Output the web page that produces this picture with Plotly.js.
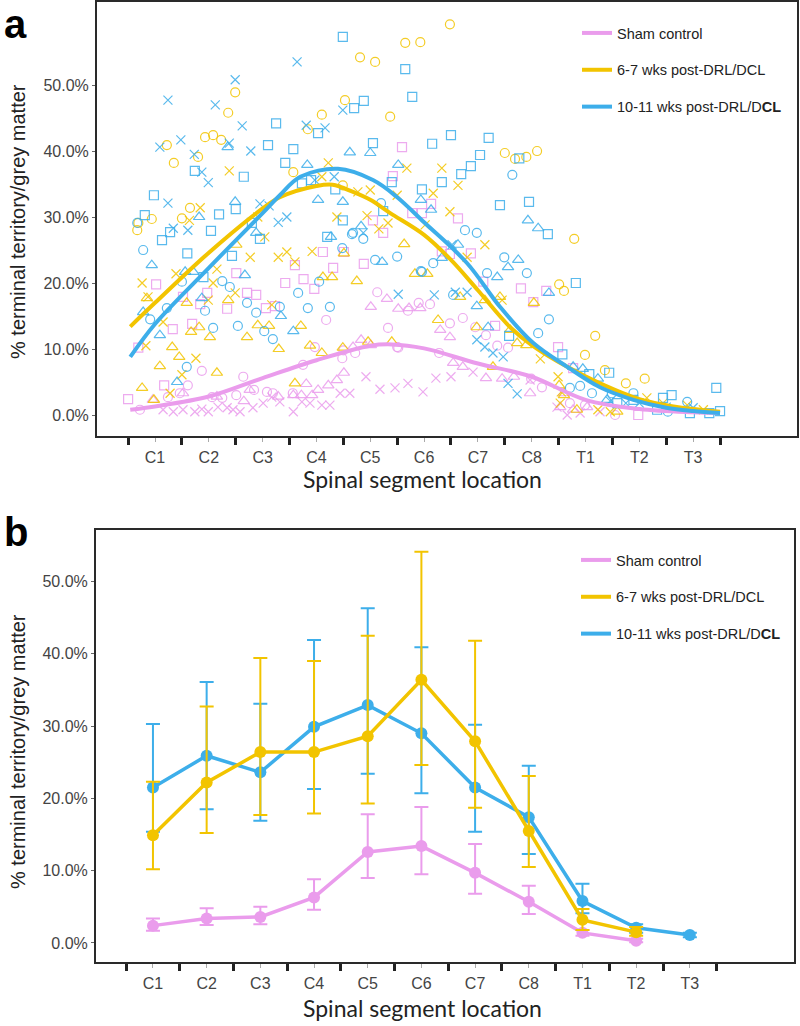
<!DOCTYPE html>
<html>
<head>
<meta charset="utf-8">
<script src="https://cdn.plot.ly/plotly-3.0.1.min.js"></script>
<style>html,body{margin:0;padding:0;background:#fff;}#chart{width:800px;height:1026px;}</style>
</head>
<body>
<div id="chart"></div>
<script>
// ---------- categories ----------
const segments = ['C1','C2','C3','C4','C5','C6','C7','C8','T1','T2','T3'];
const seriesNames = ['Sham control', '6-7 wks post-DRL/DCL', '10-11 wks post-DRL/D<b>CL</b>'];
const colSham = '#EA9CEC', colEarly = '#F2C400', colLate = '#3DAEEA';

// ---------- panel a : individual section values (x = segment position, y = %) ----------
const shamCircX = [0.72,1.24,1.46,1.61,1.87,2.06,2.25,2.51,2.64,2.84,3.08,3.19,3.56,3.75,4.18,4.48,4.72,5.13,5.33,5.5,3.97,4.5,5.52,5.7,5.9,6.11,6.48,6.72,7.15,6.28,6.95,7.36,7.56,8.19,7.99,8.71,8.99,9.55];
const shamCircY = [0.8,2.7,3.3,4.5,6.7,2.7,2.6,3.0,5.8,3.8,3.5,3.3,3.3,7.6,14.4,8.6,9.4,18.6,13.2,10.3,10.3,9.8,10.2,15.8,17.0,16.8,13.9,14.7,12.1,9.4,13.3,10.5,10.2,4.2,5.5,1.8,1.5,0.0];
const shamSqX = [0.5,0.69,1.02,1.17,1.33,1.52,1.69,1.84,1.97,2.34,2.51,2.71,2.88,3.06,3.23,3.42,3.76,3.96,4.12,4.31,4.51,4.88,5.59,5.42,5.78,5.96,6.13,6.63,5.05,5.24,3.6,6.33,6.48,6.87,7.1,7.32,7.8,8.27,8.03,8.49,8.77,9.98];
const shamSqY = [2.4,10.2,19.8,4.5,13.0,17.9,13.8,16.8,18.5,16.1,21.5,18.5,18.2,16.2,16.5,20.0,20.6,19.1,24.7,22.3,24.7,22.9,40.6,36.2,30.6,30.6,32.0,29.8,29.5,27.6,22.7,24.8,24.4,24.5,20.2,13.5,19.2,18.8,17.1,10.3,7.1,0.0];
const shamTriX = [0.96,1.52,2.15,2.65,2.76,3.29,3.57,3.81,4.03,4.22,4.38,4.51,4.68,4.83,5.01,5.01,5.31,5.52,5.72,5.93,6.3,6.48,6.54,6.72,7.15,7.45,7.67,7.97,8.53,8.6,8.77,9.03,3.92,3.72];
const shamTriY = [2.3,3.3,2.8,2.1,3.8,2.8,3.0,4.7,3.8,4.5,5.3,6.4,10.3,11.4,10.6,16.4,17.6,16.1,16.2,16.2,12.9,11.8,7.9,7.3,5.6,5.5,5.8,3.3,1.2,3.3,0.8,1.2,3.0,3.0];
const shamXX = [1.15,1.34,1.52,1.74,1.87,1.99,2.17,2.34,2.45,2.58,2.82,3.01,3.17,3.32,3.57,3.73,3.88,4.1,4.25,4.44,4.62,4.92,5.18,5.46,5.7,5.98,6.22,6.5,6.91,7.97,8.47,8.66,8.9,9.27];
const shamXY = [0.8,0.5,0.8,0.5,0.9,0.5,1.2,1.1,0.8,0.5,1.1,1.8,2.7,2.0,0.5,2.0,1.8,1.5,1.5,3.3,3.3,5.8,3.9,4.1,4.8,3.5,5.6,5.8,6.5,5.3,1.2,0.0,0.3,0.5];

const earlyCircX = [0.67,0.69,0.94,1.22,1.35,1.5,1.65,1.8,1.93,2.08,2.23,2.36,2.49,3.57,3.84,4.1,4.53,4.81,5.09,5.37,4.49,5.65,5.93,6.48,7.5,7.69,7.9,8.1,8.79,8.51,8.6,9.18,8.99,9.36,9.75,10.1];
const earlyCircY = [28.0,29.1,29.7,40.9,38.2,29.8,31.4,39.1,42.1,42.4,41.7,45.8,48.9,36.8,43.3,45.5,47.7,54.2,53.5,45.2,34.8,56.4,56.5,59.2,39.7,38.8,39.1,40.0,26.7,19.8,18.8,12.0,9.1,6.8,4.8,5.5];
const earlyTriX = [0.85,0.76,0.98,1.09,1.32,1.45,1.59,1.67,1.82,2.02,2.15,2.36,2.51,2.71,2.91,3.12,3.3,3.71,3.6,3.88,4.12,4.51,4.75,4.96,5.4,4.49,4.29,4.1,5.63,5.83,6.06,6.26,6.67,6.98,7.28,7.13,7.41,7.6,7.73,7.9,8.04,8.51,8.6,8.84,9.59];
const earlyTriY = [17.7,4.1,2.3,7.4,10.3,8.8,17.0,12.6,13.3,11.8,6.4,17.4,25.8,11.8,13.6,13.5,10.0,13.5,4.8,10.5,20.9,24.5,20.3,11.1,11.1,10.2,20.9,9.4,25.9,21.4,21.4,14.4,17.9,13.3,7.3,17.4,17.9,12.9,10.9,10.6,17.0,4.5,3.0,0.8,0.5];
const earlyXX = [0.76,0.87,0.83,1.15,1.39,1.5,1.76,1.28,1.64,1.84,2.38,1.99,2.08,2.15,2.49,2.77,2.91,3.04,3.17,3.29,3.45,3.6,3.92,4.22,4.1,4.38,4.77,5.0,5.68,5.5,4.94,5.33,5.16,6.33,6.17,6.63,6.48,6.02,7.13,6.8,7.45,8.16,8.49,8.53,9.23,9.46,8.55,10.14,10.44,10.89,11.19];
const earlyXY = [20.0,17.9,10.5,14.1,21.4,6.1,8.6,3.3,29.5,31.4,37.0,17.4,20.0,22.1,18.5,23.9,30.0,27.0,16.7,23.9,24.7,23.2,24.8,38.2,36.1,30.0,33.8,34.1,37.4,33.3,30.2,29.1,28.2,37.4,33.6,34.8,30.8,28.8,25.8,23.9,17.4,8.5,5.8,1.8,0.8,0.5,3.5,2.6,1.8,1.5,0.8];

const lateCircX = [0.67,0.78,0.91,1.22,1.5,1.59,1.93,2.08,2.25,2.39,2.54,2.71,2.88,3.03,3.19,3.32,3.66,3.84,4.05,4.25,4.48,4.66,4.87,5.09,5.5,5.96,6.17,6.54,6.76,6.98,7.17,4.68,5.2,7.64,7.49,7.91,8.32,8.12,8.71,8.9,9.12,9.49,9.89,10.53,10.89,5.94];
const lateCircY = [29.1,25.0,14.5,16.2,20.2,7.3,15.8,13.2,20.3,19.4,13.5,17.0,15.5,12.7,11.5,16.4,18.5,16.2,20.2,16.4,25.3,27.4,26.7,23.5,24.0,21.7,23.0,18.2,28.0,27.6,21.5,27.6,32.1,36.4,23.9,21.5,14.5,12.4,4.1,4.4,3.3,3.3,3.3,0.5,2.0,21.8];
const lateSqX = [0.98,0.81,1.13,1.28,1.74,2.04,2.19,2.5,2.65,2.95,3.1,3.25,3.42,3.57,3.73,3.9,4.03,4.35,4.49,4.49,4.7,4.88,5.05,5.24,5.4,5.65,5.78,5.96,6.15,6.33,6.5,6.69,6.87,7.04,7.2,7.41,7.77,7.95,8.3,8.82,7.58,8.57,9.07,9.44,9.59,9.89,10.33,10.44,10.6,10.94,11.3,11.43,11.5,1.6,2.43,1.9,4.2,2.8];
const lateSqY = [33.3,30.3,26.5,27.7,37.0,27.9,30.4,31.2,36.1,26.7,40.9,44.2,38.2,40.3,35.1,35.6,42.7,34.2,29.5,57.3,46.5,47.6,41.2,30.9,35.3,52.4,48.2,34.2,41.1,35.3,42.4,36.5,37.7,39.4,42.0,31.8,38.9,32.3,27.4,20.0,12.0,9.2,6.2,6.4,1.8,2.3,0.8,2.6,3.0,0.3,0.3,4.1,0.6,24.5,24.1,20.9,27.0,29.1];
const lateTriX = [0.94,0.78,1.09,1.41,1.56,1.71,1.87,2.67,3.34,3.57,1.82,2.49,2.35,2.88,3.83,4.03,4.27,4.49,4.62,5.0,4.83,5.52,5.22,6.33,6.63,5.94,6.13,7.93,8.12,7.56,7.75,7.36,6.98,7.19,8.32,8.77,8.95,9.23,9.4];
const lateTriY = [22.7,15.6,12.1,5.0,21.7,21.7,17.7,21.2,15.0,12.7,30.0,32.3,40.6,27.6,37.9,32.6,27.0,32.3,39.8,39.7,28.6,37.9,23.2,23.8,25.8,32.6,31.1,29.5,28.3,22.4,23.5,20.9,16.5,13.3,18.5,7.3,7.0,5.5,2.3];
const lateXX = [1.09,1.24,1.48,1.73,1.87,1.99,2.12,2.38,2.49,2.62,2.78,1.24,1.34,1.61,2.95,3.12,3.29,3.45,3.64,3.81,3.97,4.16,4.33,4.49,4.87,5.52,6.19,6.52,6.58,6.8,6.98,7.13,7.28,7.47,7.56,7.73,9.46,10.0,9.75,10.5,11.0];
const lateXY = [40.6,47.7,41.7,39.5,36.8,35.2,47.0,41.2,50.8,43.8,40.0,32.1,28.3,28.0,32.0,31.7,29.2,30.0,53.5,43.9,35.6,43.5,36.1,46.2,27.6,18.3,18.2,25.8,18.6,18.6,11.4,10.3,9.4,8.8,4.8,3.2,2.1,1.8,1.8,1.2,1.1];

// ---------- panel a : fitted curves ----------
const shamFitX = [0.54,1,2,3,4,5,5.4,6,7,8,9,10,11,11.5];
const shamFitY = [0.8,1.3,2.8,5.6,8.3,10.5,10.7,10.1,7.8,5.8,2.3,0.9,0.4,0.3];
const earlyFitX = [0.54,1,2,3,3.32,4,4.3,4.68,5,5.37,6,6.5,7,7.6,8,8.66,9.27,10,10.5,11,11.5];
const earlyFitY = [13.4,17.0,24.6,31.3,33.0,34.7,34.9,33.8,32.6,30.6,27.3,23.5,18.9,13.3,10.6,7.3,4.8,2.4,1.5,0.9,0.5];
const lateFitX = [0.54,1,2,3,3.32,3.7,4.4,5.05,5.5,6,6.8,7.41,8.03,8.66,9.27,9.89,10.5,11,11.5];
const lateFitY = [8.8,13.8,22.3,30.6,33.3,36.1,37.3,35.6,33.0,29.2,23.0,16.4,10.9,7.3,4.2,2.3,1.1,0.6,0.3];

// ---------- panel b : means with error bar limits ----------
const shamMean = [2.4,3.4,3.6,6.3,12.6,13.4,9.7,5.7,1.4,0.3,null];
const shamHi   = [3.4,4.8,5.0,8.8,17.8,18.8,13.7,7.9,1.8,0.6,null];
const shamLo   = [1.7,2.5,2.6,4.6,9.0,9.5,6.8,4.0,1.0,0.1,null];
const earlyMean = [14.9,22.2,26.4,26.4,28.6,36.4,27.9,15.5,3.2,1.5,null];
const earlyHi   = [22.3,32.7,39.4,39.0,42.5,54.1,41.8,23.1,4.7,2.2,null];
const earlyLo   = [10.2,15.2,17.7,17.9,19.3,24.6,18.7,10.5,1.8,1.0,null];
const lateMean = [21.5,25.9,23.6,29.9,32.9,29.0,21.5,17.4,5.8,2.1,1.1];
const lateHi   = [30.3,36.1,33.1,41.9,46.3,40.9,30.2,24.5,8.2,2.6,1.4];
const lateLo   = [15.4,18.5,16.9,21.3,23.4,20.7,15.4,12.3,4.1,1.4,0.8];

const yTicks = [0,10,20,30,40,50];

// ---------- build ----------
const segPos = segments.map((_, i) => i + 1);
const segBounds = segments.map((_, i) => i + 0.5).concat([segments.length + 0.5]);

function pts(x, y, sym, col) {
  return {type:'scatter', mode:'markers', x:x, y:y, xaxis:'x', yaxis:'y', showlegend:false, hoverinfo:'skip',
    marker:{symbol:sym, size: sym.indexOf('triangle')===0 ? 10 : 9, color:col, opacity:0.85, line:{color:col, width:1.2}}};
}
function fit(x, y, col, name) {
  return {type:'scatter', mode:'lines', x:x, y:y, xaxis:'x', yaxis:'y', name:name, legend:'legend', legendgroup:name,
    line:{color:col, width:4, shape:'spline', smoothing:1}, hoverinfo:'skip'};
}
function diff(a, b) { return a.map((v, i) => (v == null || b[i] == null) ? null : +(a[i] - b[i]).toFixed(2)); }
function meanTrace(mean, hi, lo, col) {
  return {type:'scatter', mode:'lines+markers', x:segPos, y:mean, xaxis:'x2', yaxis:'y2', showlegend:false, hoverinfo:'skip',
    line:{color:col, width:3.5}, marker:{color:col, size:12},
    error_y:{type:'data', symmetric:false, array:diff(hi, mean), arrayminus:diff(mean, lo), color:col, thickness:2, width:7}};
}
function legB(col, name) {
  return {type:'scatter', mode:'lines', x:[null], y:[null], xaxis:'x2', yaxis:'y2', name:name, legend:'legend2', legendgroup:name+'b',
    line:{color:col, width:4}};
}

const traces = [
  pts(shamCircX, shamCircY, 'circle-open', colSham),
  pts(shamSqX, shamSqY, 'square-open', colSham),
  pts(shamTriX, shamTriY, 'triangle-up-open', colSham),
  pts(shamXX, shamXY, 'x-thin-open', colSham),
  pts(earlyCircX, earlyCircY, 'circle-open', colEarly),
  pts(earlyTriX, earlyTriY, 'triangle-up-open', colEarly),
  pts(earlyXX, earlyXY, 'x-thin-open', colEarly),
  pts(lateCircX, lateCircY, 'circle-open', colLate),
  pts(lateSqX, lateSqY, 'square-open', colLate),
  pts(lateTriX, lateTriY, 'triangle-up-open', colLate),
  pts(lateXX, lateXY, 'x-thin-open', colLate),
  fit(shamFitX, shamFitY, colSham, seriesNames[0]),
  fit(earlyFitX, earlyFitY, colEarly, seriesNames[1]),
  fit(lateFitX, lateFitY, colLate, seriesNames[2]),
  meanTrace(shamMean, shamHi, shamLo, colSham),
  meanTrace(lateMean, lateHi, lateLo, colLate),
  meanTrace(earlyMean, earlyHi, earlyLo, colEarly),
  legB(colSham, seriesNames[0]),
  legB(colEarly, seriesNames[1]),
  legB(colLate, seriesNames[2])
];

const tickFont = {family:'Arial, "Liberation Sans", sans-serif', size:16, color:'#444'};
function xAxis(domain, range, anchor) {
  return {domain:domain, range:range, anchor:anchor, showgrid:false, zeroline:false,
    showline:true, linecolor:'#2a2a2a', linewidth:2, mirror:true,
    tickvals:segPos, ticktext:segments, ticks:'outside', ticklen:4, tickwidth:1, tickcolor:'#aaa',
    tickfont:tickFont, ticklabelstandoff:2,
    minor:{tickvals:segBounds, ticks:'outside', ticklen:7, tickwidth:3, tickcolor:'#222', showgrid:false}};
}
function yAxis(domain, range, anchor) {
  return {domain:domain, range:range, anchor:anchor, showgrid:false, zeroline:false,
    showline:true, linecolor:'#2a2a2a', linewidth:2, mirror:true,
    tickvals:yTicks, ticktext:yTicks.map(v => v.toFixed(1) + '%'), ticks:'outside', ticklen:3, tickcolor:'#666',
    tickfont:tickFont};
}
const legendFont = {family:'Arial, "Liberation Sans", sans-serif', size:14.5, color:'#222'};
const titleFontY = {family:'Arial, "Liberation Sans", sans-serif', size:20, color:'#222'};
const titleFontX = {family:'Lato, "Open Sans", sans-serif', size:23, color:'#222'};

const layout = {
  width:800, height:1026, margin:{l:0, r:0, t:0, b:0}, paper_bgcolor:'#fff', plot_bgcolor:'#fff',
  xaxis: xAxis([97/800, 797/800], [-0.078, 12.93], 'y'),
  yaxis: yAxis([1-436/1026, 1-2/1026], [-3.18, 62.58], 'x'),
  xaxis2: xAxis([96/800, 794/800], [-0.061, 12.94], 'y2'),
  yaxis2: yAxis([1-962/1026, 1-530/1026], [-2.63, 57.12], 'x2'),
  legend:{x:577/800, y:1-17/1026, xanchor:'left', yanchor:'top', font:legendFont, bgcolor:'rgba(0,0,0,0)',
    traceorder:'grouped', tracegroupgap:15, itemwidth:30},
  legend2:{x:576/800, y:1-544/1026, xanchor:'left', yanchor:'top', font:legendFont, bgcolor:'rgba(0,0,0,0)',
    traceorder:'grouped', tracegroupgap:15, itemwidth:30},
  annotations:[
    {text:'<b>a</b>', xref:'paper', yref:'paper', x:2/800, y:1, xanchor:'left', yanchor:'top', showarrow:false,
      font:{family:'Arial, "Liberation Sans", sans-serif', size:40, color:'#000'}},
    {text:'<b>b</b>', xref:'paper', yref:'paper', x:2/800, y:1-508/1026, xanchor:'left', yanchor:'top', showarrow:false,
      font:{family:'Arial, "Liberation Sans", sans-serif', size:40, color:'#000'}},
    {text:'% terminal territory/grey matter', xref:'paper', yref:'paper', x:18/800, y:1-222/1026, textangle:-90,
      xanchor:'center', yanchor:'middle', showarrow:false, font:titleFontY},
    {text:'% terminal territory/grey matter', xref:'paper', yref:'paper', x:18/800, y:1-752/1026, textangle:-90,
      xanchor:'center', yanchor:'middle', showarrow:false, font:titleFontY},
    {text:'Spinal segment location', xref:'paper', yref:'paper', x:422/800, y:1-479/1026,
      xanchor:'center', yanchor:'middle', showarrow:false, font:titleFontX},
    {text:'Spinal segment location', xref:'paper', yref:'paper', x:422/800, y:1-1008/1026,
      xanchor:'center', yanchor:'middle', showarrow:false, font:titleFontX}
  ]
};

Plotly.newPlot('chart', traces, layout, {displayModeBar:false, staticPlot:true});
</script>
</body>
</html>
